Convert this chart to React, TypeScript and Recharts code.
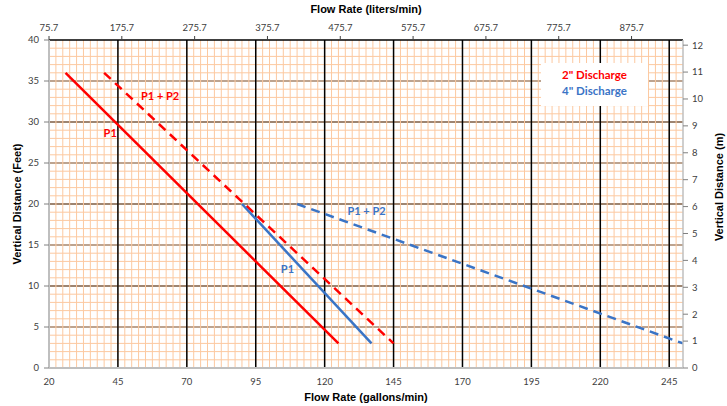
import React from 'react';
import { LineChart, Line, XAxis, YAxis, ReferenceLine, ReferenceDot } from 'recharts';

const GPM_TO_LPM = 3.7854;
const FT_TO_M = 0.3048;

// Axis ticks
const gpmTicks = [20, 45, 70, 95, 120, 145, 170, 195, 220, 245];
const lpmTicks = [75.71, 175.7, 275.7, 375.7, 475.7, 575.7, 675.7, 775.7, 875.7];
const ftTicks = [0, 5, 10, 15, 20, 25, 30, 35, 40];
const mTicks = [0, 1, 2, 3, 4, 5, 6, 7, 8, 9, 10, 11, 12];

// Series (flow in gpm, head in feet)
const p1TwoInchFlow = [26, 125];
const p1TwoInchHead = [36, 3];
const p12TwoInchFlow = [40, 145];
const p12TwoInchHead = [36, 3];
const p1FourInchFlow = [90, 137];
const p1FourInchHead = [20, 3];
const p12FourInchFlow = [110, 250];
const p12FourInchHead = [20, 3];

// Curve labels
const labelText = ['P1 + P2', 'P1', 'P1', 'P1 + P2'];
const labelFlow = [60.3, 42.2, 106.5, 135.2];
const labelHead = [33.2, 28.7, 12.1, 19.1];
const labelColor = ['#FF0000', '#FF0000', '#3A74C6', '#3A74C6'];

const RED = '#FF0000';
const BLUE = '#3A74C6';
const ORANGE = '#FCC9A0';

const X_MIN = 20;
const X_MAX = 250;
const Y_MIN = 0;
const Y_MAX = 40;

const toPoints = (xs: number[], ys: number[]) => xs.map((x, i) => ({ x, y: ys[i] }));
const toTopPoints = (xs: number[], ys: number[]) => xs.map((x, i) => ({ x: x * GPM_TO_LPM, y: ys[i] }));

const minorX: number[] = [];
for (let v = X_MIN + 2.5; v < X_MAX; v += 2.5) minorX.push(Math.round(v * 10) / 10);
const minorY: number[] = [];
for (let v = Y_MIN + 1; v < Y_MAX; v += 1) minorY.push(v);
const majorX = gpmTicks.slice(1);
const majorY = ftTicks.slice(1, -1);

const tickStyle = { fontSize: 9.5, fontFamily: 'Lato', fill: '#404040' };
const titleStyle = { fontSize: 11, fontFamily: 'Liberation Sans', fontWeight: 700, fill: '#000' };

export default function App() {
  return (
    <div style={{ position: 'absolute', left: 0, top: 0, width: 727, height: 406, background: '#fff' }}>
      <LineChart width={727} height={406} margin={{ top: 0, right: 0, bottom: 0, left: 0 }}>
        <XAxis
          xAxisId={0}
          type="number"
          dataKey="x"
          domain={[X_MIN, X_MAX]}
          ticks={gpmTicks}
          allowDataOverflow
          height={38}
          tickSize={0}
          tickMargin={10}
          tickLine={false}
          axisLine={{ stroke: '#BFBFBF', strokeWidth: 2 }}
          tick={tickStyle}
          interval={0}
          label={{ value: 'Flow Rate (gallons/min)', position: 'insideBottom', offset: 5, style: titleStyle }}
        />
        <XAxis
          xAxisId="top"
          orientation="top"
          type="number"
          dataKey="x"
          domain={[X_MIN * GPM_TO_LPM, X_MAX * GPM_TO_LPM]}
          ticks={lpmTicks}
          allowDataOverflow
          height={40}
          tickSize={4}
          tickMargin={5}
          tickLine={{ stroke: '#404040' }}
          axisLine={{ stroke: '#000', strokeWidth: 1.5 }}
          tick={tickStyle}
          interval={0}
          tickFormatter={(v: number) => v.toFixed(1)}
          label={{ value: 'Flow Rate (liters/min)', position: 'insideTop', offset: 5, style: titleStyle }}
        />
        <YAxis
          yAxisId={0}
          type="number"
          domain={[Y_MIN, Y_MAX]}
          ticks={ftTicks}
          allowDataOverflow
          width={49}
          tickSize={5}
          tickMargin={5}
          tickLine={{ stroke: '#808080' }}
          axisLine={{ stroke: '#BFBFBF', strokeWidth: 2 }}
          tick={tickStyle}
          interval={0}
          label={{ value: 'Vertical Distance (Feet)', angle: -90, position: 'insideLeft', offset: 17, style: { ...titleStyle, textAnchor: 'middle' } }}
        />
        <YAxis
          yAxisId="m"
          orientation="right"
          type="number"
          domain={[Y_MIN * FT_TO_M, Y_MAX * FT_TO_M]}
          ticks={mTicks}
          allowDataOverflow
          width={44}
          tickSize={5}
          tickMargin={4}
          tickLine={{ stroke: '#808080' }}
          axisLine={{ stroke: '#BFBFBF', strokeWidth: 1.5 }}
          tick={tickStyle}
          interval={0}
          label={{ value: 'Vertical Distance (m)', angle: -90, position: 'insideRight', offset: 8, dy: -17, style: { ...titleStyle, textAnchor: 'middle' } }}
        />

        {majorY.map((v) => (
          <ReferenceLine key={'hy' + v} y={v} yAxisId={0} xAxisId={0} stroke={v % 10 === 0 ? '#000' : '#555'} strokeWidth={1.6} zIndex={-30} />
        ))}
        {minorX.map((v) => (
          <ReferenceLine key={'mx' + v} x={v} xAxisId={0} yAxisId={0} stroke={ORANGE} strokeWidth={1} zIndex={-20} />
        ))}
        {minorY.map((v) => (
          <ReferenceLine key={'my' + v} y={v} yAxisId={0} xAxisId={0} stroke={ORANGE} strokeWidth={1} zIndex={-20} />
        ))}
        {majorX.map((v) => (
          <ReferenceLine key={'vx' + v} x={v} xAxisId={0} yAxisId={0} stroke="#000" strokeWidth={1.5} zIndex={-10} />
        ))}

        {/* invisible companion series so the liters/min axis has data bound to it */}
        <Line data={toTopPoints(p12FourInchFlow, p12FourInchHead)} dataKey="y" xAxisId="top" yAxisId={0} stroke="none" strokeWidth={0} dot={false} activeDot={false} legendType="none" isAnimationActive={false} />

        <Line data={toPoints(p1TwoInchFlow, p1TwoInchHead)} dataKey="y" xAxisId={0} yAxisId={0} stroke={RED} strokeWidth={2.5} dot={false} isAnimationActive={false} />
        <Line data={toPoints(p12TwoInchFlow, p12TwoInchHead)} dataKey="y" xAxisId={0} yAxisId={0} stroke={RED} strokeWidth={2.5} strokeDasharray="9 6" dot={false} isAnimationActive={false} />
        <Line data={toPoints(p1FourInchFlow, p1FourInchHead)} dataKey="y" xAxisId={0} yAxisId={0} stroke={BLUE} strokeWidth={2.5} dot={false} isAnimationActive={false} />
        <Line data={toPoints(p12FourInchFlow, p12FourInchHead)} dataKey="y" xAxisId={0} yAxisId={0} stroke={BLUE} strokeWidth={2.5} strokeDasharray="9 6" dot={false} isAnimationActive={false} />

        {labelText.map((t, i) => (
          <ReferenceDot
            key={'lbl' + i}
            x={labelFlow[i]}
            y={labelHead[i]}
            xAxisId={0}
            yAxisId={0}
            r={0}
            fill="none"
            stroke="none"
            label={{ value: t, position: 'center', fill: labelColor[i], fontWeight: 700, fontSize: 11, fontFamily: 'Lato' }}
          />
        ))}
      </LineChart>
      <div
        style={{
          position: 'absolute',
          left: 541,
          top: 63,
          width: 107,
          height: 43,
          background: '#fff',
          fontFamily: 'Lato',
          fontWeight: 700,
          fontSize: 11.5,
          textAlign: 'center',
          lineHeight: '16px',
          paddingTop: 4,
          boxSizing: 'border-box',
        }}
      >
        <div style={{ color: RED }}>2" Discharge</div>
        <div style={{ color: BLUE }}>4" Discharge</div>
      </div>
    </div>
  );
}
